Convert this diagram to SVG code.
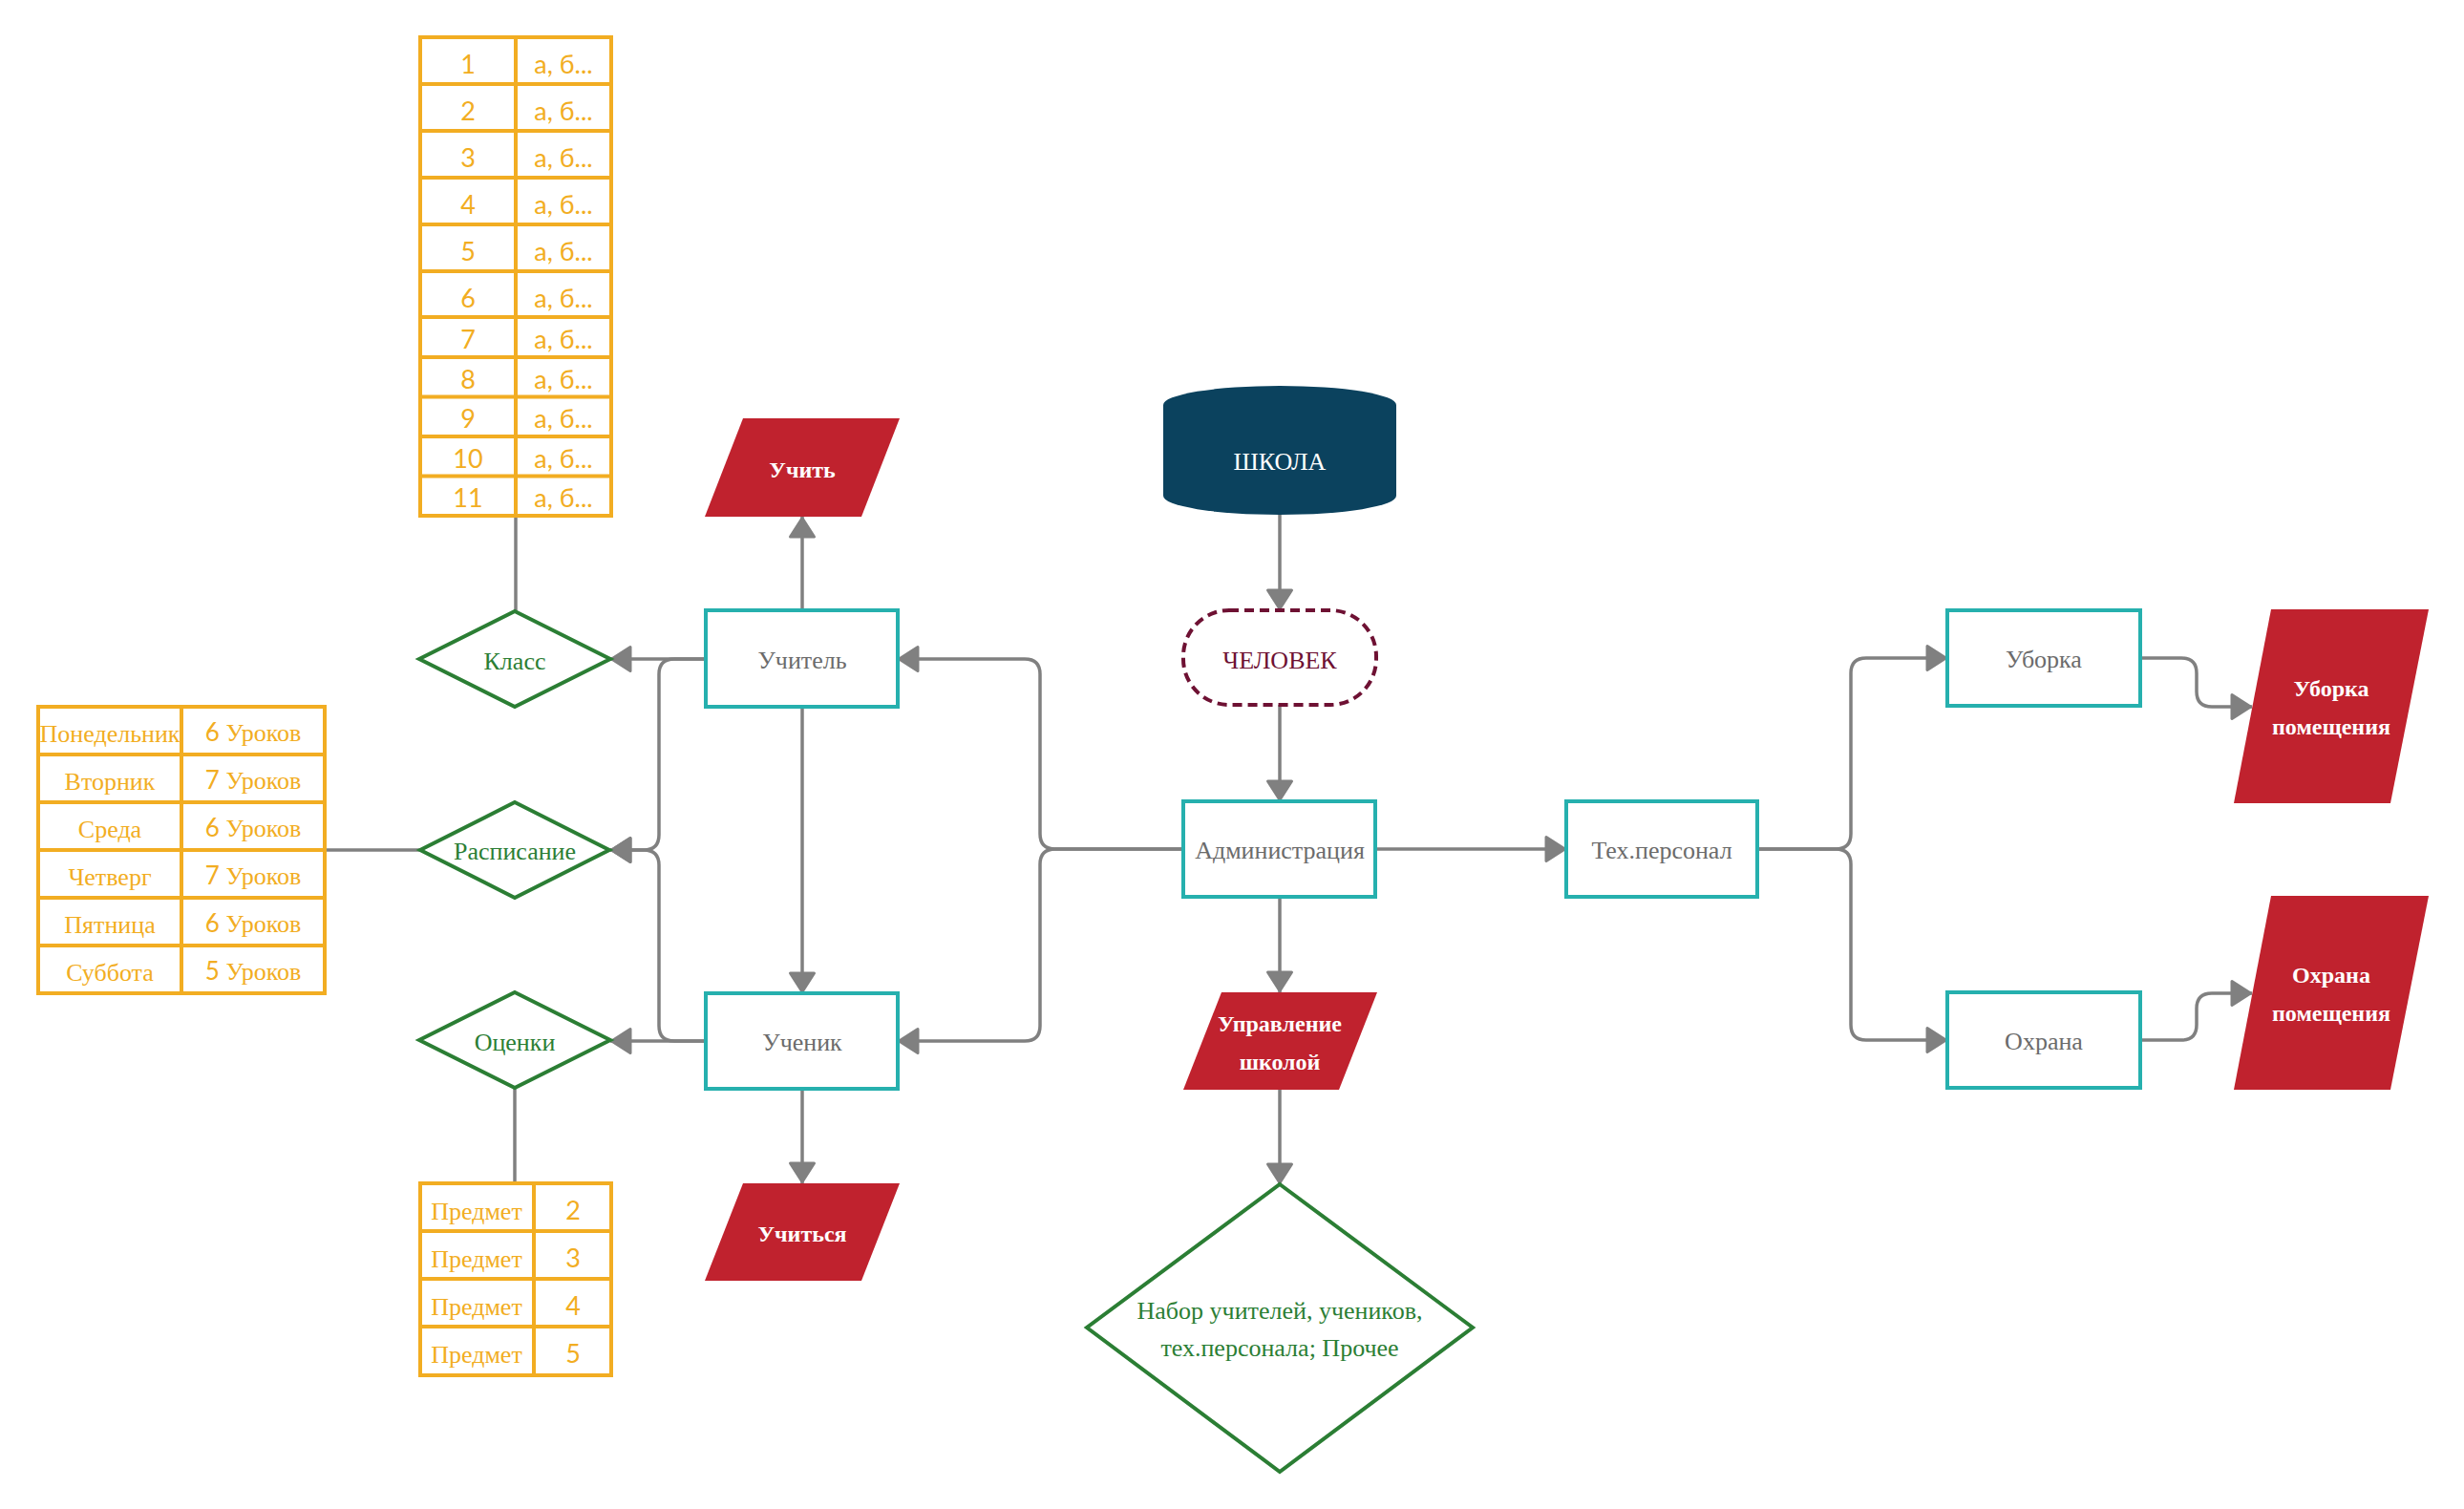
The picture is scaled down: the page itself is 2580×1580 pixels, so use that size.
<svg xmlns="http://www.w3.org/2000/svg" width="2580" height="1580" viewBox="0 0 2580 1580">
  <defs>
    <style>
      .box { fill: #ffffff; stroke: #26B0AE; stroke-width: 4; }
      .boxt { font-family: "Liberation Serif", "Times New Roman", serif; font-size: 26px; fill: #6b6b6b; text-anchor: middle; }
      .dia { fill: #ffffff; stroke: #2B7E34; stroke-width: 4; stroke-linejoin: miter; }
      .diat { font-family: "Liberation Serif", "Times New Roman", serif; font-size: 26px; fill: #2B7E34; text-anchor: middle; }
      .io { fill: #C0222E; }
      .iot { font-family: "Liberation Serif", "Times New Roman", serif; font-size: 24px; font-weight: bold; fill: #ffffff; text-anchor: middle; }
      .tbl { fill: #ffffff; stroke: #F2AD22; stroke-width: 4; }
      .tl { stroke: #F2AD22; stroke-width: 4; fill: none; }
      .ts { font-family: "Liberation Serif", "Times New Roman", serif; font-size: 26px; fill: #F2AD22; text-anchor: middle; }
      .tn { font-family: Lato, "Noto Sans", sans-serif; font-size: 27px; fill: #F2AD22; text-anchor: middle; }
      .lato { font-family: Lato, "Noto Sans", sans-serif; }
      .serif { font-family: "Liberation Serif", "Times New Roman", serif; }
      .edge { fill: none; stroke: #808080; stroke-width: 3.5; }
      .arrow { marker-end: url(#arr); }
    </style>
    <marker id="arr" markerUnits="userSpaceOnUse" markerWidth="26" markerHeight="30" viewBox="0 0 26 30" refX="23" refY="15" orient="auto">
      <path d="M2,2.5 L21.5,15 L2,27.5 Z" fill="#808080" stroke="#808080" stroke-width="3" stroke-linejoin="round"/>
    </marker>
  </defs>

  <rect width="2580" height="1580" fill="#ffffff"/>

  <!-- connectors -->
  <g id="connectors">
    <path class="edge arrow" d="M1340,539 V639"/>
    <path class="edge arrow" d="M1340,738 V839"/>
    <path class="edge arrow" d="M1340,939 V1039"/>
    <path class="edge arrow" d="M1340,1141 V1240"/>
    <path class="edge arrow" d="M1440,889 H1640"/>
    <path class="edge arrow" d="M1239,889 H1105 Q1089,889 1089,873 V706 Q1089,690 1073,690 H940"/>
    <path class="edge arrow" d="M1239,889 H1105 Q1089,889 1089,905 V1074 Q1089,1090 1073,1090 H940"/>
    <path class="edge arrow" d="M840,639 V541"/>
    <path class="edge arrow" d="M840,740 V1040"/>
    <path class="edge arrow" d="M840,1140 V1239"/>
    <path class="edge arrow" d="M739,690 H639"/>
    <path class="edge arrow" d="M739,690 H706 Q690,690 690,706 V874 Q690,890 674,890 H639"/>
    <path class="edge arrow" d="M739,1090 H706 Q690,1090 690,1074 V906 Q690,890 674,890 H639"/>
    <path class="edge arrow" d="M739,1090 H639"/>
    <path class="edge" d="M540,540 V640"/>
    <path class="edge" d="M340,890 H440"/>
    <path class="edge" d="M539,1139 V1239"/>
    <path class="edge arrow" d="M1840,889 H1922 Q1938,889 1938,873 V705 Q1938,689 1954,689 H2039"/>
    <path class="edge arrow" d="M1840,889 H1922 Q1938,889 1938,905 V1073 Q1938,1089 1954,1089 H2039"/>
    <path class="edge arrow" d="M2241,689 H2284 Q2300,689 2300,705 V724 Q2300,740 2316,740 H2358"/>
    <path class="edge arrow" d="M2241,1089 H2284 Q2300,1089 2300,1073 V1056 Q2300,1040 2316,1040 H2358"/>
  </g>

  <!-- school (cylinder) -->
  <g id="shkola">
    <path d="M1218,424 A122,20 0 0 1 1462,424 L1462,519 A122,20 0 0 1 1218,519 Z" fill="#0B425E"/>
    <text x="1340" y="492" class="serif" font-size="26" fill="#ffffff" text-anchor="middle">ШКОЛА</text>
  </g>

  <!-- person (dashed terminator) -->
  <g id="chelovek">
    <rect x="1239" y="639" width="202" height="99" rx="48" ry="48" fill="#ffffff" stroke="#6E1133" stroke-width="4" stroke-dasharray="10 6"/>
    <text x="1340" y="700" class="serif" font-size="26" fill="#6E1133" text-anchor="middle">ЧЕЛОВЕК</text>
  </g>

  <g id="administratsiya">
    <rect class="box" x="1239" y="839" width="201" height="100"/>
    <text class="boxt" x="1340" y="899">Администрация</text>
  </g>

  <g id="upravlenie">
    <polygon class="io" points="1279,1039 1442,1039 1402,1141 1239,1141"/>
    <text class="iot" x="1340" y="1080">Управление</text>
    <text class="iot" x="1340" y="1120">школой</text>
  </g>

  <g id="nabor">
    <polygon class="dia" points="1340,1240 1542,1390 1340,1541 1138,1390"/>
    <text class="diat" x="1340" y="1381">Набор учителей, учеников,</text>
    <text class="diat" x="1340" y="1420">тех.персонала; Прочее</text>
  </g>

  <g id="tehpersonal">
    <rect class="box" x="1640" y="839" width="200" height="100"/>
    <text class="boxt" x="1740" y="899">Тех.персонал</text>
  </g>

  <g id="uborka">
    <rect class="box" x="2039" y="639" width="202" height="100"/>
    <text class="boxt" x="2140" y="699">Уборка</text>
  </g>

  <g id="ohrana">
    <rect class="box" x="2039" y="1039" width="202" height="100"/>
    <text class="boxt" x="2140" y="1099">Охрана</text>
  </g>

  <g id="uborka-pomeshcheniya">
    <polygon class="io" points="2378,638 2543,638 2503,841 2339,841"/>
    <text class="iot" x="2441" y="729">Уборка</text>
    <text class="iot" x="2441" y="769">помещения</text>
  </g>

  <g id="ohrana-pomeshcheniya">
    <polygon class="io" points="2378,938 2543,938 2503,1141 2339,1141"/>
    <text class="iot" x="2441" y="1029">Охрана</text>
    <text class="iot" x="2441" y="1069">помещения</text>
  </g>

  <g id="uchitel">
    <rect class="box" x="739" y="639" width="201" height="101"/>
    <text class="boxt" x="840" y="700">Учитель</text>
  </g>

  <g id="uchenik">
    <rect class="box" x="739" y="1040" width="201" height="100"/>
    <text class="boxt" x="840" y="1100">Ученик</text>
  </g>

  <g id="uchit">
    <polygon class="io" points="778,438 942,438 902,541 738,541"/>
    <text class="iot" x="840" y="500">Учить</text>
  </g>

  <g id="uchitsya">
    <polygon class="io" points="778,1239 942,1239 902,1341 738,1341"/>
    <text class="iot" x="840" y="1300">Учиться</text>
  </g>

  <g id="klass">
    <polygon class="dia" points="539,640 639,690 539,740 439,690"/>
    <text class="diat" x="539" y="701">Класс</text>
  </g>

  <g id="raspisanie">
    <polygon class="dia" points="539,840 638,890 539,940 440,890"/>
    <text class="diat" x="539" y="900">Расписание</text>
  </g>

  <g id="otsenki">
    <polygon class="dia" points="539,1039 639,1089 539,1139 439,1089"/>
    <text class="diat" x="539" y="1100">Оценки</text>
  </g>

  <!-- class list: 11 grades with letters -->
  <g id="klassy-tablitsa">
    <rect class="tbl" x="440" y="39" width="200" height="501"/>
    <path class="tl" d="M540,39 V540 M440,88 H640 M440,137 H640 M440,186 H640 M440,235 H640 M440,284 H640 M440,332 H640 M440,374 H640 M440,415.5 H640 M440,457 H640 M440,498.5 H640"/>
    <g class="tn">
      <text x="490" y="77">1</text>
      <text x="490" y="126">2</text>
      <text x="490" y="175">3</text>
      <text x="490" y="224">4</text>
      <text x="490" y="273">5</text>
      <text x="490" y="322">6</text>
      <text x="490" y="365">7</text>
      <text x="490" y="407">8</text>
      <text x="490" y="448">9</text>
      <text x="490" y="490">10</text>
      <text x="490" y="531">11</text>
    </g>
    <g class="tn" font-size="25">
      <text x="590" y="77">а, б...</text>
      <text x="590" y="126">а, б...</text>
      <text x="590" y="175">а, б...</text>
      <text x="590" y="224">а, б...</text>
      <text x="590" y="273">а, б...</text>
      <text x="590" y="322">а, б...</text>
      <text x="590" y="365">а, б...</text>
      <text x="590" y="407">а, б...</text>
      <text x="590" y="448">а, б...</text>
      <text x="590" y="490">а, б...</text>
      <text x="590" y="531">а, б...</text>
    </g>
  </g>

  <!-- weekly timetable -->
  <g id="raspisanie-tablitsa">
    <rect class="tbl" x="40" y="740" width="300" height="300"/>
    <path class="tl" d="M190,740 V1040 M40,790 H340 M40,840 H340 M40,890 H340 M40,940 H340 M40,990 H340"/>
    <g class="ts">
      <text x="115" y="777">Понедельник</text>
      <text x="115" y="827">Вторник</text>
      <text x="115" y="877">Среда</text>
      <text x="115" y="927">Четверг</text>
      <text x="115" y="977">Пятница</text>
      <text x="115" y="1027">Суббота</text>
    </g>
    <g class="ts">
      <text x="265" y="776"><tspan class="lato">6 </tspan>Уроков</text>
      <text x="265" y="826"><tspan class="lato">7 </tspan>Уроков</text>
      <text x="265" y="876"><tspan class="lato">6 </tspan>Уроков</text>
      <text x="265" y="926"><tspan class="lato">7 </tspan>Уроков</text>
      <text x="265" y="976"><tspan class="lato">6 </tspan>Уроков</text>
      <text x="265" y="1026"><tspan class="lato">5 </tspan>Уроков</text>
    </g>
  </g>

  <!-- grades table -->
  <g id="otsenki-tablitsa">
    <rect class="tbl" x="440" y="1239" width="200" height="201"/>
    <path class="tl" d="M559,1239 V1440 M440,1289 H640 M440,1339 H640 M440,1389 H640"/>
    <g class="ts">
      <text x="499" y="1277">Предмет</text>
      <text x="499" y="1327">Предмет</text>
      <text x="499" y="1377">Предмет</text>
      <text x="499" y="1427">Предмет</text>
    </g>
    <g class="tn">
      <text x="600" y="1277">2</text>
      <text x="600" y="1327">3</text>
      <text x="600" y="1377">4</text>
      <text x="600" y="1427">5</text>
    </g>
  </g>
</svg>
